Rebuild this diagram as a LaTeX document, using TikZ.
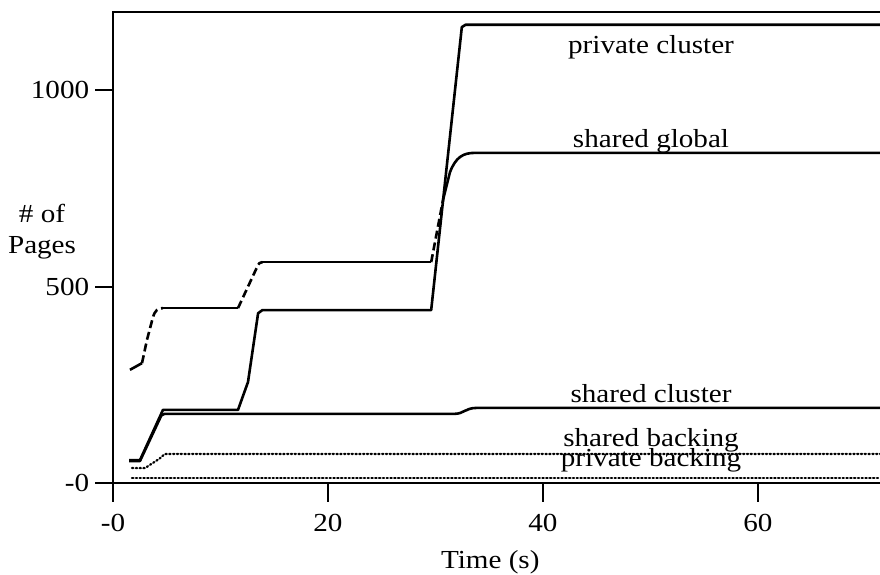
\documentclass[tikz,border=0pt]{standalone}
\usepackage{fontspec}
\setmainfont{Liberation Serif}[FakeStretch=1.12]
\begin{document}
\begin{tikzpicture}[x=10.75pt, y=0.393pt,
    axisline/.style={line width=2pt},
    curve/.style={line width=2.6pt, line join=round},
    risedash/.style={curve, dash pattern=on 8pt off 4pt},
    dotcurve/.style={line width=2.2pt, line cap=round, dash pattern=on 1.3pt off 2.5pt},
    ticklab/.style={font=\fontsize{26}{28}\selectfont, inner sep=0pt},
    curvelab/.style={font=\fontsize{26}{28}\selectfont, inner sep=0pt, anchor=base}]
  % canvas
  \useasboundingbox (-10.51,-234) rectangle (71.35,1229);

  % frame and axes
  \draw[axisline] (0,-48) -- (0,1198.5) -- (71.35,1198.5);
  \draw[axisline] (-1.67,0) -- (71.35,0);
  \foreach \v in {500,1000}
    \draw[axisline] (-1.67,\v) -- (0,\v);
  \foreach \t in {20,40,60}
    \draw[axisline] (\t,0) -- (\t,-48);

  % tick labels
  \node[ticklab, anchor=east] (y0)    at (-2.2,0)    {-0};
  \node[ticklab, anchor=east] (y500)  at (-2.2,500)  {500};
  \node[ticklab, anchor=east] (y1000) at (-2.2,1000) {1000};
  \node[ticklab] (x0)  at (0,-102)  {-0};
  \node[ticklab] (x20) at (20,-102) {20};
  \node[ticklab] (x40) at (40,-102) {40};
  \node[ticklab] (x60) at (60,-102) {60};

  % axis titles
  \node[ticklab] (ytitleA) at (-6.6,687) {\# of};
  \node[ticklab] (ytitleB) at (-6.6,598) {Pages};
  \node[ticklab] (xtitle)  at (35.1,-201) {Time (s)};

  % private cluster
  \draw[curve] (1.49,58) -- (2.51,58) -- (4.65,186) -- (11.63,186)
    -- (12.56,257) -- (13.5,432) -- (13.9,440) -- (29.6,440)
    -- (32.45,1160) -- (32.8,1166) -- (71.35,1166);

  % shared cluster
  \draw[curve] (1.49,56) -- (2.51,56) -- (4.5,172) -- (4.8,176)
    -- (31.8,176) .. controls (32.6,176) and (32.8,191) .. (33.8,191)
    -- (71.35,191);

  % shared global: solid plateaus, dashed rises
  \draw[curve] (1.58,288) -- (2.70,305);
  \draw[risedash] (2.70,305) -- (3.16,364) -- (3.7,420)
    .. controls (3.9,440) and (4.2,445) .. (4.65,445);
  \draw[curve] (4.65,445) -- (11.63,445);
  \draw[risedash] (11.63,445) -- (13.5,555) .. controls (13.6,560) .. (13.9,562);
  \draw[curve] (13.9,562) -- (29.6,562);
  \draw[risedash] (29.6,562) -- (30.7,720);
  \draw[curve] (30.7,720) -- (31.35,791)
    .. controls (31.9,830) and (32.6,840) .. (33.67,840) -- (71.35,840);

  % backing pages (dotted)
  \draw[dotcurve] (1.77,38) -- (2.98,38) -- (4.28,61) -- (4.84,74) -- (71.35,74);
  \draw[dotcurve] (1.77,13) -- (71.35,13);

  % curve labels
  \node[curvelab] (lpc) at (50.05,1094) {private cluster};
  \node[curvelab] (lsg) at (50.05,853)  {shared global};
  \node[curvelab] (lsc) at (50.05,206)  {shared cluster};
  \node[curvelab] (lsb) at (50.05,92)   {shared backing};
  \node[curvelab] (lpb) at (50.05,43)   {private backing};
\end{tikzpicture}
\end{document}
